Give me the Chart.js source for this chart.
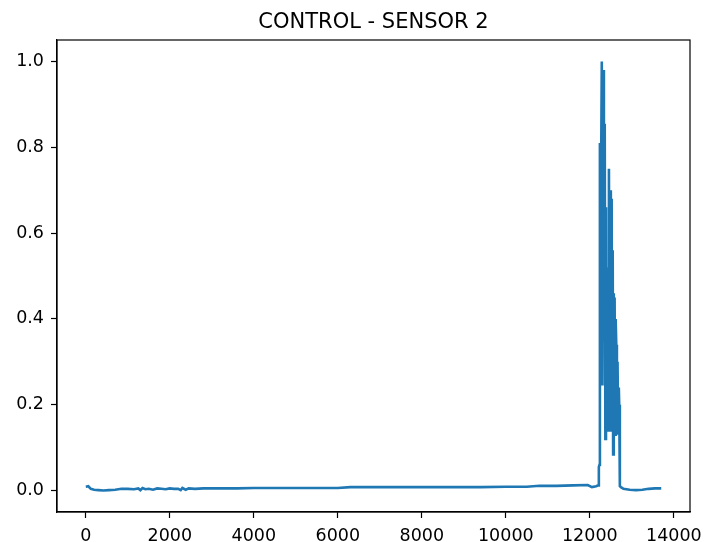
<!DOCTYPE html>
<html>
<head>
<meta charset="utf-8">
<title>CONTROL - SENSOR 2</title>
<script src="https://cdn.jsdelivr.net/npm/chart.js@4/dist/chart.umd.min.js"></script>
<style>
    body { margin: 0; background: #ffffff; }
    #wrap { width: 721px; height: 542px; }
</style>
</head>
<body>
<div id="wrap"><canvas id="sensor-chart" width="721" height="542"></canvas></div>
<script>
// Sensor 2 trace, normalised reading vs sample index
const sampleIdx = [
    0, 60, 120, 200, 300, 420, 550, 700, 850, 1000,
    1150, 1250, 1300, 1350, 1420, 1500, 1600, 1700, 1800, 1900,
    2000, 2100, 2200, 2260, 2300, 2380, 2450, 2600, 2800, 3000,
    3300, 3600, 4000, 4400, 4800, 5200, 5600, 6000, 6300, 6700,
    7200, 7800, 8400, 8900, 9400, 10000, 10500, 10800, 11200, 11600,
    11950, 12050, 12150, 12200, 12215, 12230, 12240, 12250, 12262, 12285,
    12300, 12320, 12335, 12355, 12370, 12385, 12395, 12405, 12415, 12430,
    12440, 12455, 12470, 12480, 12490, 12500, 12510, 12520, 12530, 12545,
    12555, 12565, 12575, 12590, 12605, 12615, 12630, 12645, 12660, 12675,
    12690, 12700, 12715, 12740, 12800, 12950, 13100, 13250, 13400, 13550,
    13700
];
const sensorVals = [
    0.009, 0.010, 0.004, 0.002, 0.001, 0.000, 0.001, 0.002, 0.004, 0.004,
    0.003, 0.005, 0.001, 0.006, 0.003, 0.004, 0.002, 0.005, 0.004, 0.003,
    0.005, 0.004, 0.004, 0.001, 0.006, 0.002, 0.005, 0.004, 0.005, 0.005,
    0.005, 0.005, 0.006, 0.006, 0.006, 0.006, 0.006, 0.006, 0.008, 0.008,
    0.008, 0.008, 0.008, 0.008, 0.008, 0.009, 0.009, 0.011, 0.011, 0.012,
    0.013, 0.008, 0.010, 0.012, 0.055, 0.06, 0.81, 0.25, 0.64, 1.0,
    0.245, 0.98, 0.40, 0.855, 0.12, 0.66, 0.16, 0.52, 0.14, 0.21,
    0.15, 0.75, 0.14, 0.62, 0.18, 0.70, 0.42, 0.68, 0.14, 0.56,
    0.084, 0.46, 0.20, 0.45, 0.13, 0.40, 0.34, 0.13, 0.30, 0.14,
    0.24, 0.20, 0.010, 0.008, 0.004, 0.002, 0.001, 0.002, 0.004, 0.005,
    0.005
];
const xTicks = [0, 2000, 4000, 6000, 8000, 10000, 12000, 14000];
const yTicks = [0.0, 0.2, 0.4, 0.6, 0.8, 1.0];

const tickFont = { family: 'DejaVu Sans', size: 17.5 };

// full black frame around the plot area
const frame = {
    id: 'frame',
    afterDraw(chart) {
        const { ctx, chartArea: a } = chart;
        ctx.save();
        ctx.strokeStyle = '#000000';
        ctx.lineWidth = 1.2;
        ctx.strokeRect(a.left, a.top, a.right - a.left, a.bottom - a.top);
        ctx.restore();
    }
};

const points = sampleIdx.map((x, i) => ({ x: x, y: sensorVals[i] }));

new Chart(document.getElementById('sensor-chart'), {
    type: 'line',
    data: {
        datasets: [{
            data: points,
            borderColor: '#1f77b4',
            borderWidth: 2.6,
            pointRadius: 0,
            tension: 0,
            fill: false
        }]
    },
    options: {
        responsive: false,
        animation: false,
        layout: { padding: { left: 0, right: 31, top: 0, bottom: 0 } },
        plugins: {
            legend: { display: false },
            tooltip: { enabled: false },
            title: {
                display: true,
                fullSize: false,
                text: 'CONTROL - SENSOR 2',
                color: '#000000',
                font: { family: 'DejaVu Sans', size: 21, weight: 'normal' },
                padding: { top: 9.5, bottom: 5.3 }
            }
        },
        scales: {
            x: {
                type: 'linear',
                min: -685,
                max: 14385,
                afterFit(scale) { scale.height = 30; },
                afterBuildTicks(scale) { scale.ticks = xTicks.map(v => ({ value: v })); },
                grid: {
                    drawOnChartArea: false,
                    drawTicks: true,
                    tickLength: 6,
                    tickColor: '#000000',
                    tickWidth: 1.2
                },
                border: { display: true, color: '#000000', width: 1.2 },
                ticks: {
                    color: '#000000',
                    font: tickFont,
                    padding: 8,
                    maxRotation: 0,
                    callback: v => String(v)
                }
            },
            y: {
                type: 'linear',
                min: -0.05,
                max: 1.05,
                afterFit(scale) { scale.width = 57; },
                afterBuildTicks(scale) { scale.ticks = yTicks.map(v => ({ value: v })); },
                grid: {
                    drawOnChartArea: false,
                    drawTicks: true,
                    tickLength: 6,
                    tickColor: '#000000',
                    tickWidth: 1.2
                },
                border: { display: true, color: '#000000', width: 1.2 },
                ticks: {
                    color: '#000000',
                    font: tickFont,
                    padding: 7,
                    callback: v => v.toFixed(1)
                }
            }
        }
    },
    plugins: [frame]
});
</script>
</body>
</html>
